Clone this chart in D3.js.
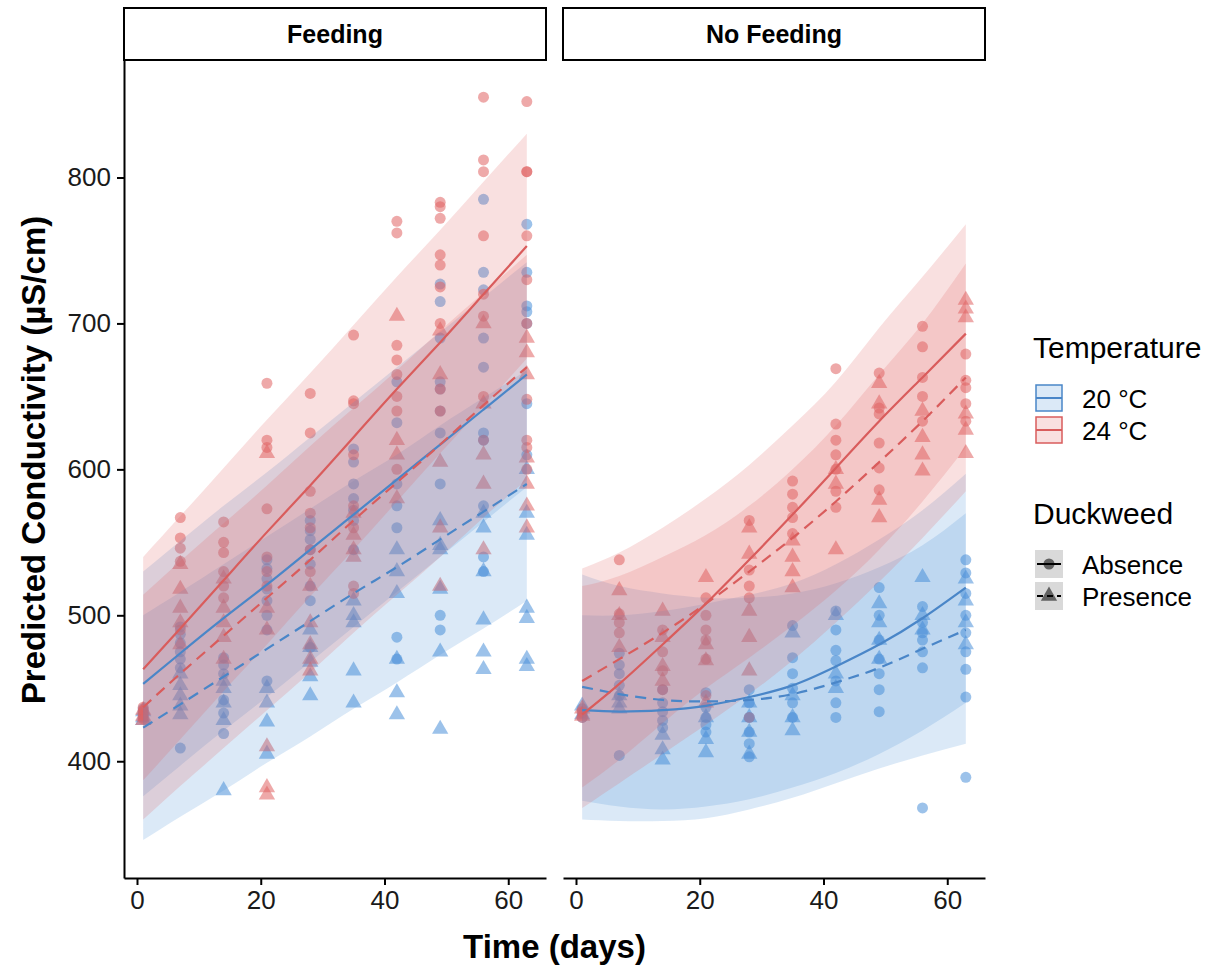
<!DOCTYPE html>
<html>
<head>
<meta charset="utf-8">
<script src="https://cdn.jsdelivr.net/npm/d3@7"></script>
<style>
  body { margin: 0; background: #fff; }
  text { font-family: "Liberation Sans", Arial, Helvetica, sans-serif; }
</style>
</head>
<body>
<svg id="chart"></svg>
<script>
// Chart size
const width = 1225;
const height = 970;

// Data ----------------------------------------------------------------------
const times = [1, 7, 14, 21, 28, 35, 42, 49, 56, 63];
const panels = ["Feeding", "No Feeding"];
const groups = ["20-Absence", "20-Presence", "24-Absence", "24-Presence"];
const tempLabels = ["20 °C", "24 °C"];
const duckweedLabels = ["Absence", "Presence"];
const yTicks = [400, 500, 600, 700, 800];
const xTicks = [0, 20, 40, 60];

// Model predictions (read at each sampling day)
const feedingFit = {
  "20-Absence":  [453, 474, 498, 521, 545, 569, 593, 617, 641, 665],
  "20-Presence": [423, 439, 458, 477, 496, 515, 533, 552, 571, 590],
  "24-Absence":  [463, 491, 524, 557, 589, 622, 655, 687, 720, 753],
  "24-Presence": [437, 460, 486, 512, 538, 565, 591, 617, 644, 670]
};
const feedingLower = {
  "20-Absence":  [376, 397, 421, 444, 468, 492, 516, 540, 564, 588],
  "20-Presence": [346, 362, 380, 399, 417, 436, 454, 473, 491, 510],
  "24-Absence":  [387, 415, 448, 480, 513, 545, 578, 611, 643, 676],
  "24-Presence": [360, 383, 409, 435, 461, 488, 514, 540, 567, 593]
};
const feedingUpper = {
  "20-Absence":  [530, 551, 575, 598, 622, 646, 670, 694, 718, 742],
  "20-Presence": [500, 516, 535, 554, 573, 592, 610, 630, 649, 668],
  "24-Absence":  [540, 568, 601, 634, 666, 699, 732, 764, 797, 830],
  "24-Presence": [514, 537, 563, 589, 616, 642, 668, 695, 721, 747]
};
const noFeedingFit = {
  "20-Absence":  [435, 434, 435, 438, 444, 452, 465, 480, 498, 519],
  "20-Presence": [451, 446, 442, 441, 442, 446, 454, 464, 477, 490],
  "24-Absence":  [432, 453, 480, 508, 538, 569, 601, 633, 663, 693],
  "24-Presence": [455, 470, 488, 508, 530, 553, 578, 605, 633, 663]
};
const noFeedingLower = {
  "20-Absence":  [373, 369, 367, 369, 374, 382, 392, 405, 421, 440],
  "20-Presence": [360, 359, 359, 361, 367, 375, 385, 395, 404, 412],
  "24-Absence":  [382, 401, 426, 450, 471, 493, 517, 545, 578, 615],
  "24-Presence": [368, 385, 405, 425, 446, 469, 495, 523, 553, 585]
};
const noFeedingUpper = {
  "20-Absence":  [500, 500, 503, 508, 514, 522, 535, 552, 572, 597],
  "20-Presence": [528, 520, 515, 512, 512, 515, 522, 533, 548, 570],
  "24-Absence":  [532, 543, 560, 580, 603, 630, 660, 697, 732, 768],
  "24-Presence": [520, 527, 540, 555, 575, 600, 630, 665, 700, 741]
};

// Observations, one list per sampling day
const feedingPoints = {
  "20-Absence": [
    [432, 436, 430, 434], [492, 487, 481, 475, 470, 464, 409], [471, 466, 460, 442, 433, 419],
    [538, 532, 525, 518, 510, 500, 490, 455], [565, 558, 552, 545, 535, 520, 510, 478],
    [614, 605, 590, 580, 572, 565, 545], [660, 632, 590, 575, 560, 485, 470],
    [727, 715, 690, 660, 655, 640, 625, 590, 500, 490], [785, 735, 723, 690, 670, 625, 620, 575, 540, 530],
    [768, 735, 712, 708, 700, 645, 610]
  ],
  "20-Presence": [
    [430, 434, 428], [460, 452, 445, 438, 432], [455, 450, 440, 428, 380], [450, 440, 427, 405],
    [490, 478, 468, 458, 445], [510, 500, 495, 462, 440], [545, 530, 515, 470, 447, 432],
    [565, 548, 545, 518, 475, 422], [570, 560, 530, 497, 475, 463], [600, 570, 555, 505, 498, 470, 465]
  ],
  "24-Absence": [
    [435, 432, 429, 437], [567, 553, 546, 537, 490], [564, 550, 543, 530, 520, 512],
    [659, 620, 615, 573, 540, 530, 520], [652, 625, 585, 570, 560, 545, 530],
    [692, 647, 645, 610, 575, 560, 520, 515], [770, 762, 685, 675, 665, 650, 640, 600],
    [783, 780, 772, 747, 740, 725, 700, 655, 640], [855, 812, 804, 760, 720, 705, 650, 620],
    [852, 804, 804, 760, 730, 700, 648, 620, 615, 600]
  ],
  "24-Presence": [
    [431, 435, 428], [535, 518, 505, 495, 480], [525, 505, 495, 485, 470], [611, 505, 490, 410, 382, 377],
    [520, 495, 480, 470, 462], [570, 555, 545, 540], [705, 620, 610, 580], [695, 665, 605, 560, 520],
    [700, 645, 610, 590, 545], [690, 680, 665, 608, 590, 575, 560]
  ]
};
const noFeedingPoints = {
  "20-Absence": [
    [433, 430, 436], [474, 466, 460, 452, 445, 404], [449, 440, 434, 428, 423], [447, 437, 430, 425, 420],
    [449, 440, 430, 420, 412, 403], [493, 471, 460, 450, 440, 430], [503, 490, 476, 469, 455, 440, 430],
    [519, 500, 483, 470, 460, 449, 434], [506, 495, 488, 483, 475, 464, 368],
    [538, 529, 515, 500, 488, 475, 463, 444, 389]
  ],
  "20-Presence": [
    [438, 432], [445, 440, 436], [418, 408, 401], [430, 415, 406], [440, 430, 420, 405],
    [488, 445, 430, 421], [500, 460, 450], [508, 495, 483, 470], [526, 500, 490], [525, 510, 495, 480]
  ],
  "24-Absence": [
    [430, 434], [538, 501, 495, 488], [490, 475, 462, 449], [512, 500, 490, 483, 470, 445],
    [565, 531, 520, 512, 430], [592, 583, 574, 567, 556], [669, 631, 620, 610, 600, 585, 574],
    [666, 642, 638, 618, 601, 586], [698, 684, 663, 650, 633], [679, 661, 656, 645, 633]
  ],
  "24-Presence": [
    [431, 436], [517, 500, 478], [503, 485, 465, 455], [526, 480, 469, 440], [560, 542, 503, 485, 462],
    [551, 540, 530, 519], [600, 590, 545], [659, 645, 579, 567], [640, 622, 610, 599],
    [716, 710, 704, 638, 627, 611]
  ]
};

// Visual constants ------------------------------------------------------------
const COLOR = { "20": "#4a90d9", "24": "#e06262" };
const LINE_COLOR = { "20": "#4a86c8", "24": "#d95c5c" };
const POINT_OPACITY = 0.55;
const RIBBON_OPACITY = 0.2;
const DASH = "11,7";
const STRIP_TOP = 8;
const PANEL_TOP = 60;
const PANEL_BOTTOM = 878;
const PANEL_X = [[124, 546], [563, 985]];

const panelData = [
  { fit: feedingFit, lower: feedingLower, upper: feedingUpper, points: feedingPoints },
  { fit: noFeedingFit, lower: noFeedingLower, upper: noFeedingUpper, points: noFeedingPoints }
];

const svg = d3.select("#chart")
  .attr("width", width)
  .attr("height", height)
  .attr("viewBox", [0, 0, width, height]);

const y = d3.scaleLinear().domain([320, 880.5]).range([PANEL_BOTTOM, PANEL_TOP]);

const temp = g => g.split("-")[0];
const isPresence = g => g.split("-")[1] === "Presence";
const circle = d3.symbol(d3.symbolCircle, 95)();
const triangle = d3.symbol(d3.symbolTriangle, 115)();

panels.forEach((name, i) => {
  const x = d3.scaleLinear().domain([-2.1, 66.1]).range(PANEL_X[i]);
  const data = panelData[i];
  const g = svg.append("g");

  // points
  const pts = [];
  groups.forEach(grp => {
    data.points[grp].forEach((vals, k) => vals.forEach(v => pts.push({ t: times[k], v, grp })));
  });
  g.append("g")
    .selectAll("path")
    .data(pts)
    .join("path")
      .attr("transform", d => `translate(${x(d.t)},${y(d.v)})`)
      .attr("d", d => isPresence(d.grp) ? triangle : circle)
      .attr("fill", d => COLOR[temp(d.grp)])
      .attr("fill-opacity", POINT_OPACITY);

  // confidence ribbons
  const area = d3.area()
    .x((d, k) => x(times[k]))
    .y0(d => y(d[0]))
    .y1(d => y(d[1]))
    .curve(d3.curveNatural);
  g.append("g")
    .selectAll("path")
    .data(groups)
    .join("path")
      .attr("d", grp => area(data.lower[grp].map((lo, k) => [lo, data.upper[grp][k]])))
      .attr("fill", grp => COLOR[temp(grp)])
      .attr("fill-opacity", RIBBON_OPACITY);

  // fitted lines
  const line = d3.line()
    .x((d, k) => x(times[k]))
    .y(d => y(d))
    .curve(d3.curveNatural);
  g.append("g")
    .selectAll("path")
    .data(groups)
    .join("path")
      .attr("d", grp => line(data.fit[grp]))
      .attr("fill", "none")
      .attr("stroke", grp => LINE_COLOR[temp(grp)])
      .attr("stroke-width", 2.2)
      .attr("stroke-dasharray", grp => isPresence(grp) ? DASH : null);

  // strip
  g.append("rect")
    .attr("x", PANEL_X[i][0])
    .attr("y", STRIP_TOP)
    .attr("width", PANEL_X[i][1] - PANEL_X[i][0])
    .attr("height", PANEL_TOP - STRIP_TOP)
    .attr("fill", "#fff")
    .attr("stroke", "#000")
    .attr("stroke-width", 2);
  g.append("text")
    .attr("x", (PANEL_X[i][0] + PANEL_X[i][1]) / 2)
    .attr("y", (STRIP_TOP + PANEL_TOP) / 2 + 9)
    .attr("text-anchor", "middle")
    .attr("font-weight", "bold")
    .attr("font-size", 25)
    .text(name);

  // x axis
  const xAxis = g.append("g")
    .attr("transform", `translate(0,${PANEL_BOTTOM})`)
    .call(d3.axisBottom(x).tickValues(xTicks).tickSize(7).tickSizeOuter(0).tickPadding(6));
  styleAxis(xAxis);

  // y axis only on the first panel
  if (i === 0) {
    const yAxis = g.append("g")
      .attr("transform", `translate(${PANEL_X[0][0]},0)`)
      .call(d3.axisLeft(y).tickValues(yTicks).tickSize(7).tickSizeOuter(0).tickPadding(6));
    styleAxis(yAxis);
  }
});

function styleAxis(axis) {
  axis.select(".domain").attr("stroke", "#000").attr("stroke-width", 2);
  axis.selectAll(".tick line").attr("stroke", "#000").attr("stroke-width", 2);
  axis.selectAll(".tick text")
    .attr("fill", "#1a1a1a")
    .attr("font-size", 26)
    .style("font-family", "'Liberation Sans', Arial, sans-serif");
}

// axis titles
svg.append("text")
  .attr("transform", `translate(45,${(PANEL_TOP + PANEL_BOTTOM) / 2 - 9}) rotate(-90)`)
  .attr("text-anchor", "middle")
  .attr("font-weight", "bold")
  .attr("font-size", 33)
  .text("Predicted Conductivity (µS/cm)");

svg.append("text")
  .attr("x", (PANEL_X[0][0] + PANEL_X[1][1]) / 2)
  .attr("y", 958)
  .attr("text-anchor", "middle")
  .attr("font-weight", "bold")
  .attr("font-size", 33)
  .text("Time (days)");

// Legends ---------------------------------------------------------------------
const legend = svg.append("g").attr("transform", "translate(1033,0)");
const KEY = 28;

legend.append("text").attr("x", 0).attr("y", 358).attr("font-size", 30).text("Temperature");
tempLabels.forEach((lab, k) => {
  const t = k === 0 ? "20" : "24";
  const cy = 398 + k * 32;
  legend.append("rect")
    .attr("x", 3).attr("y", cy - KEY / 2 + 1).attr("width", KEY - 2).attr("height", KEY - 2)
    .attr("fill", COLOR[t]).attr("fill-opacity", RIBBON_OPACITY)
    .attr("stroke", LINE_COLOR[t]).attr("stroke-width", 1.5);
  legend.append("line")
    .attr("x1", 3).attr("x2", KEY + 1).attr("y1", cy).attr("y2", cy)
    .attr("stroke", LINE_COLOR[t]).attr("stroke-width", 2);
  legend.append("text").attr("x", 49).attr("y", cy + 10).attr("font-size", 26).text(lab);
});

legend.append("text").attr("x", 0).attr("y", 524).attr("font-size", 30).text("Duckweed");
duckweedLabels.forEach((lab, k) => {
  const cy = 564 + k * 32;
  legend.append("rect")
    .attr("x", 2).attr("y", cy - KEY / 2).attr("width", KEY).attr("height", KEY)
    .attr("fill", "#d9d9d9");
  legend.append("line")
    .attr("x1", 4).attr("x2", KEY).attr("y1", cy).attr("y2", cy)
    .attr("stroke", "#000").attr("stroke-width", 2)
    .attr("stroke-dasharray", k === 1 ? "6,4" : null);
  legend.append("path")
    .attr("transform", `translate(${2 + KEY / 2},${cy})`)
    .attr("d", k === 1 ? triangle : circle)
    .attr("fill", "#000").attr("fill-opacity", POINT_OPACITY);
  legend.append("text").attr("x", 49).attr("y", cy + 10).attr("font-size", 26).text(lab);
});
</script>
</body>
</html>
